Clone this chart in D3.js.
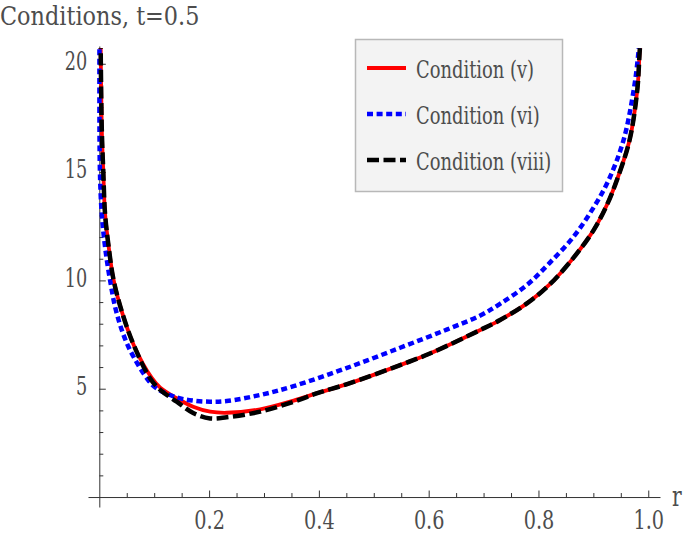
<!DOCTYPE html>
<html><head><meta charset="utf-8">
<script src="https://cdn.jsdelivr.net/npm/d3@7/dist/d3.min.js"></script>
<style>body{margin:0;background:#fff}svg{display:block}</style>
</head><body><svg id="chart" width="685" height="534"></svg>
<script>
// ---- data ----
const title = "Conditions, t=0.5";
const xLabel = "r";
const seriesNames = ["Condition (v)", "Condition (vi)", "Condition (viii)"];
const xMajorTicks = [0.2, 0.4, 0.6, 0.8, 1.0];
const xTickLabels = ["0.2", "0.4", "0.6", "0.8", "1.0"];
const yMajorTicks = [5, 10, 15, 20];
const yTickLabels = ["5", "10", "15", "20"];

const rV   = [0.002, 0.0045, 0.0073, 0.0104, 0.017, 0.026, 0.042, 0.064, 0.0955, 0.111, 0.141, 0.171, 0.202, 0.232, 0.293, 0.354, 0.4, 0.45, 0.548, 0.6, 0.694, 0.73, 0.779, 0.82, 0.864, 0.9, 0.925, 0.943, 0.966, 0.98, 0.984, 0.988];
const valV = [22, 17, 15, 13.1, 11.56, 10.02, 8.48, 6.94, 5.5, 5.05, 4.56, 4.17, 3.94, 3.89, 4.05, 4.45, 4.82, 5.2, 6.09, 6.6, 7.71, 8.17, 8.94, 9.8, 11.05, 12.3, 13.5, 14.64, 16.48, 18.79, 20.4, 22];

const rVI   = [0.0004, 0.001, 0.0044, 0.0104, 0.0195, 0.0317, 0.053, 0.089, 0.105, 0.141, 0.171, 0.202, 0.232, 0.293, 0.354, 0.45, 0.548, 0.63, 0.694, 0.73, 0.779, 0.82, 0.864, 0.9, 0.928, 0.955, 0.9735, 0.982, 0.986];
const valVI = [22, 15.2, 13.1, 11.56, 10.02, 8.48, 6.94, 5.4, 5.0, 4.6, 4.45, 4.4, 4.43, 4.71, 5.12, 5.95, 6.89, 7.7, 8.38, 8.92, 9.79, 10.8, 12.02, 13.35, 14.64, 16.48, 18.79, 20.5, 22];

const rVIII   = [0.002, 0.0045, 0.0073, 0.0104, 0.017, 0.026, 0.042, 0.064, 0.092, 0.111, 0.141, 0.171, 0.202, 0.232, 0.293, 0.354, 0.4, 0.45, 0.548, 0.6, 0.694, 0.73, 0.779, 0.82, 0.864, 0.9, 0.925, 0.943, 0.966, 0.98, 0.984, 0.988];
const valVIII = [22, 17, 15, 13.1, 11.56, 10.02, 8.48, 6.94, 5.5, 4.95, 4.4, 3.88, 3.63, 3.68, 3.94, 4.4, 4.82, 5.2, 6.09, 6.6, 7.71, 8.17, 8.94, 9.8, 11.05, 12.3, 13.5, 14.64, 16.48, 18.79, 20.4, 22];

// ---- layout ----
const plotL = 88, plotR = 660, plotT = 46, plotB = 507;
const svg = d3.select("#chart");
const FONT = "DejaVu Serif";
const TXT = "#4d4d4d";

const x = d3.scaleLinear().domain([-0.0206, 1.0214]).range([plotL, plotR]);
const y = d3.scaleLinear().domain([-0.46, 20.82]).range([plotB, plotT]);

function squeeze(sel, f) {
  sel.each(function () {
    const w = this.getComputedTextLength();
    this.setAttribute("textLength", w * f);
    this.setAttribute("lengthAdjust", "spacingAndGlyphs");
  });
}

const xMinor = d3.range(1, 21).map(i => i * 0.05).filter(v => Math.abs(v * 5 - Math.round(v * 5)) > 1e-6);
const yMinor = d3.range(1, 21).filter(v => v % 5 !== 0);

// minor ticks
svg.append("g").attr("transform", `translate(0,${y(0)})`)
  .call(d3.axisBottom(x).tickValues(xMinor).tickSizeInner(-4).tickSizeOuter(0).tickFormat(""))
  .call(g => g.select(".domain").remove())
  .call(g => g.selectAll("line").attr("stroke", "#333"));
svg.append("g").attr("transform", `translate(${x(0)},0)`)
  .call(d3.axisLeft(y).tickValues(yMinor).tickSizeInner(-4).tickSizeOuter(0).tickFormat(""))
  .call(g => g.select(".domain").remove())
  .call(g => g.selectAll("line").attr("stroke", "#333"));

// major axes
const xAxis = svg.append("g").attr("transform", `translate(0,${y(0)})`)
  .call(d3.axisBottom(x).tickValues(xMajorTicks).tickSizeInner(-6.5).tickSizeOuter(0).tickPadding(13)
    .tickFormat((d, i) => xTickLabels[i]));
const yAxis = svg.append("g").attr("transform", `translate(${x(0)},0)`)
  .call(d3.axisLeft(y).tickValues(yMajorTicks).tickSizeInner(-6.5).tickSizeOuter(0).tickPadding(12)
    .tickFormat((d, i) => yTickLabels[i]));
[xAxis, yAxis].forEach(g => {
  g.select(".domain").attr("stroke", "#333").attr("stroke-width", 1);
  g.selectAll("line").attr("stroke", "#333");
  g.selectAll("text").attr("font-family", FONT).attr("font-size", 26).attr("fill", TXT);
});
xAxis.selectAll("text").attr("dy", "0.72em");
yAxis.selectAll("text").attr("dy", "0.22em");
squeeze(xAxis.selectAll("text"), 0.74);
squeeze(yAxis.selectAll("text"), 0.68);

// axis label r
const rl = svg.append("text").attr("x", x(1.0214) + 12).attr("y", y(0) + 9)
  .attr("font-family", FONT).attr("font-size", 27).attr("fill", TXT).text(xLabel);
squeeze(rl, 0.75);

// title
const tt = svg.append("text").attr("x", 0).attr("y", 25)
  .attr("font-family", FONT).attr("font-size", 26).attr("fill", TXT).text(title);
squeeze(tt, 0.86);

// curves
svg.append("clipPath").attr("id", "clip").append("rect")
  .attr("x", plotL).attr("y", plotT + 2).attr("width", plotR - plotL).attr("height", plotB - plotT);
const line = d3.line().x(d => x(d[0])).y(d => y(d[1])).curve(d3.curveCatmullRom.alpha(0.5));
const styles = [
  { color: "#ff0000", width: 3.8, dash: null },
  { color: "#0000ff", width: 4.5, dash: "6,3.6" },
  { color: "#000000", width: 4.5, dash: "12,4.5" }
];
const series = [
  d3.zip(rV, valV),
  d3.zip(rVI, valVI),
  d3.zip(rVIII, valVIII)
];
const cg = svg.append("g").attr("clip-path", "url(#clip)");
series.forEach((s, i) => {
  cg.append("path").datum(s).attr("d", line).attr("fill", "none")
    .attr("stroke", styles[i].color).attr("stroke-width", styles[i].width)
    .attr("stroke-dasharray", styles[i].dash);
});

// legend
const lg = svg.append("g");
lg.append("rect").attr("x", 355.5).attr("y", 39.5).attr("width", 207).attr("height", 152)
  .attr("fill", "#f3f3f3").attr("stroke", "#b8b8b8").attr("stroke-width", 1.5);
seriesNames.forEach((name, i) => {
  const cy = 68 + i * 46;
  lg.append("line").attr("x1", 367).attr("x2", 406).attr("y1", cy).attr("y2", cy)
    .attr("stroke", styles[i].color).attr("stroke-width", styles[i].width)
    .attr("stroke-dasharray", styles[i].dash);
  const t = lg.append("text").attr("x", 416).attr("y", cy + 10)
    .attr("font-family", FONT).attr("font-size", 24.5).attr("fill", TXT).text(name);
  squeeze(t, 0.73);
});
</script></body></html>
